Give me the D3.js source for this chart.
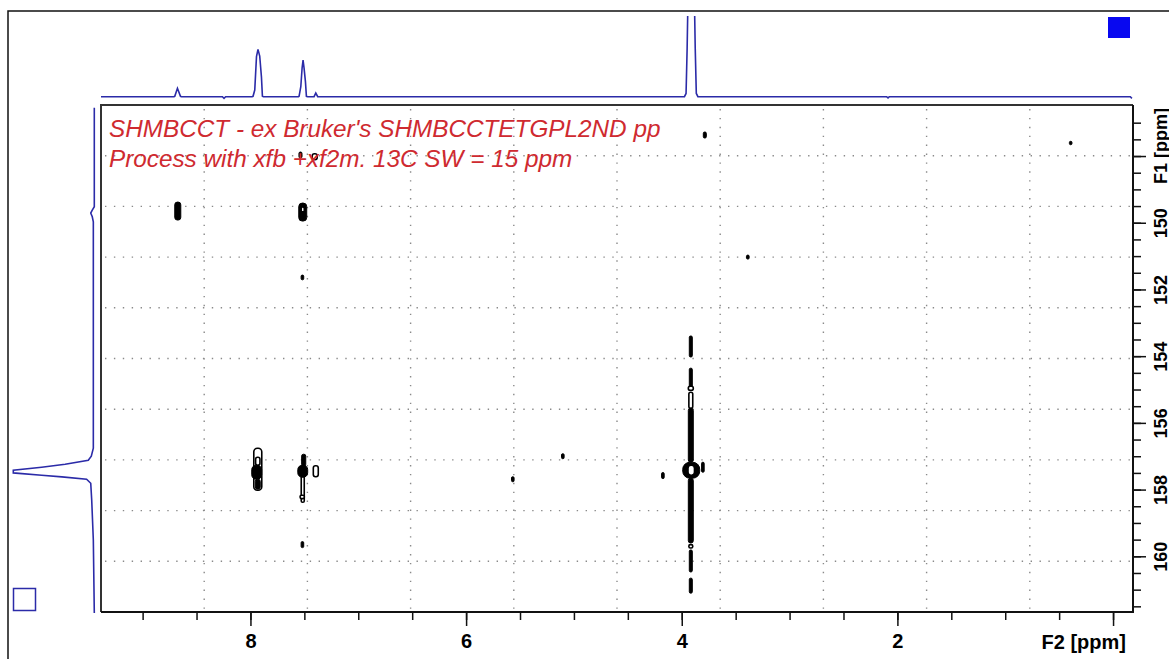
<!DOCTYPE html>
<html>
<head>
<meta charset="utf-8">
<script src="https://cdn.jsdelivr.net/npm/d3@7"></script>
<style>
    body { margin: 0; background: #fff; }
    svg { display: block; }
    text { font-family: "Liberation Sans", Arial, sans-serif; }
</style>
</head>
<body>
<script>
/* global d3 */

var width = 1169;
var height = 659;

// axis labels
var f2Major = [8, 6, 4, 2, 0];
var f1Major = [148, 150, 152, 154, 156, 158, 160];
var f2Title = "F2 [ppm]";
var f1Title = "F1 [ppm]";
var titleLines = ["SHMBCCT - ex Bruker's SHMBCCTETGPL2ND pp",
    "Process with xfb +xf2m. 13C SW = 15 ppm"];

// 1D projection on top: [F2 ppm, intensity]
var topProj = [
    [9.386, 0], [8.71, 0], [8.702, 0.5], [8.677, 10.4], [8.649, 0.5], [8.64, 0],
    [8.26, 0], [8.245, -2], [8.23, 0],
    [7.985, 0], [7.976, 0.5], [7.960, 8.3], [7.944, 49.6], [7.930, 58.7], [7.914, 50.4],
    [7.898, 24.4], [7.889, 0.5], [7.88, 0],
    [7.555, 0], [7.549, 0.5], [7.533, 12.4], [7.521, 35.6], [7.512, 45.5], [7.503, 35.6],
    [7.490, 18.6], [7.481, 0.5], [7.47, 0],
    [7.41, 0], [7.394, 4.5], [7.376, 0],
    [3.975, 0], [3.96, 4], [3.95, 60], [3.945, 100], [3.94, 130],
    [3.885, 130], [3.88, 100], [3.875, 60], [3.865, 4], [3.85, 0],
    [2.10, 0], [2.087, -1.5], [2.075, 0],
    [-0.16, 0], [-0.175, -2]
];

// 1D projection on the left: [F1 ppm, intensity]
var leftProj = [
    [146.55, 0], [149.52, 0], [149.62, 2.5], [149.71, 4.4], [149.82, 2.5], [149.97, 1.2],
    [155.62, 1.2], [156.76, 1.2], [157.0, 3.7], [157.12, 7.4], [157.24, 36], [157.33, 65],
    [157.42, 100], [157.50, 100], [157.57, 65], [157.62, 40], [157.69, 9.5], [157.81, 4.4],
    [158.31, 3.2], [159.51, 1.2], [161.70, 0]
];

// contours: [F2 ppm, F1 ppm, half width F2, half width F1, level (1 = solid, 0 = open)]
var contours = [
    [7.536, 147.97, 0.014, 0.09, 1],
    [7.404, 148.02, 0.023, 0.09, 0],
    [3.786, 147.37, 0.014, 0.09, 1],
    [0.393, 147.61, 0.012, 0.05, 1],
    [8.674, 149.65, 0.028, 0.27, 1],
    [7.515, 149.68, 0.037, 0.27, 1],
    [7.515, 149.60, 0.014, 0.07, 0],
    [3.387, 151.03, 0.012, 0.06, 1],
    [7.518, 151.64, 0.012, 0.07, 1],
    [7.932, 157.39, 0.037, 0.63, 0],
    [7.932, 157.15, 0.020, 0.12, 0],
    [7.942, 157.48, 0.046, 0.21, 1],
    [7.932, 157.84, 0.023, 0.15, 1],
    [7.515, 157.99, 0.014, 0.39, 0],
    [7.520, 158.22, 0.020, 0.05, 0],
    [7.506, 157.12, 0.019, 0.18, 1],
    [7.515, 157.45, 0.046, 0.18, 1],
    [7.394, 157.45, 0.023, 0.165, 0],
    [7.518, 159.65, 0.012, 0.09, 1],
    [5.567, 157.69, 0.012, 0.075, 1],
    [5.103, 157.00, 0.012, 0.075, 1],
    [4.175, 157.58, 0.012, 0.09, 1],
    [3.804, 157.33, 0.012, 0.15, 1],
    [3.916, 153.71, 0.014, 0.315, 1],
    [3.916, 154.66, 0.014, 0.30, 1],
    [3.916, 154.96, 0.023, 0.06, 0],
    [3.916, 155.32, 0.018, 0.24, 0],
    [3.916, 156.37, 0.023, 0.81, 1],
    [3.916, 158.63, 0.023, 0.97, 1],
    [3.916, 159.70, 0.018, 0.05, 0],
    [3.916, 160.14, 0.014, 0.33, 1],
    [3.916, 160.88, 0.014, 0.225, 1],
    [3.912, 157.42, 0.079, 0.24, 1],
    [3.912, 157.42, 0.030, 0.15, 0]
];

var plot = {left: 101, top: 105, right: 1133, bottom: 612};
var blue = "#2b2ba8";

var svg = d3.select("body")
        .append("svg")
        .attr("width", width)
        .attr("height", height);

var x = d3.scaleLinear().domain([9.386, -0.185]).range([plot.left, plot.right]);
var y = d3.scaleLinear().domain([146.47, 161.67]).range([plot.top, plot.bottom]);
var topY = d3.scaleLinear().domain([0, 100]).range([96.7, 16]);
var leftX = d3.scaleLinear().domain([0, 100]).range([94.3, 13.3]);

// outer frame (runs off the picture to the right and bottom)
svg.append("path")
        .attr("d", "M8," + (height + 5) + "V11H" + (width + 5))
        .attr("fill", "none")
        .attr("stroke", "#111")
        .attr("stroke-width", 1.5);

// grid, 10 x 10 divisions
var gx = d3.scaleLinear().domain([0, 10]).range([plot.left, plot.right]);
var gy = d3.scaleLinear().domain([0, 10]).range([plot.top, plot.bottom]);
var grid = svg.append("g")
        .attr("stroke", "#8a8a8a")
        .attr("stroke-width", 1.4)
        .attr("stroke-dasharray", "1.4 7.5");
grid.selectAll(".gv").data(d3.range(1, 10)).enter().append("line")
        .attr("x1", function (d) { return gx(d); })
        .attr("x2", function (d) { return gx(d); })
        .attr("y1", plot.top + 4)
        .attr("y2", plot.bottom);
grid.selectAll(".gh").data(d3.range(1, 10)).enter().append("line")
        .attr("y1", function (d) { return gy(d); })
        .attr("y2", function (d) { return gy(d); })
        .attr("x1", plot.left + 4)
        .attr("x2", plot.right);

// contours
var cont = svg.append("g");
cont.selectAll("rect").data(contours).enter().append("rect")
        .attr("x", function (d) { return x(d[0] + d[2]); })
        .attr("y", function (d) { return y(d[1] - d[3]); })
        .attr("width", function (d) { return x(d[0] - d[2]) - x(d[0] + d[2]); })
        .attr("height", function (d) { return y(d[1] + d[3]) - y(d[1] - d[3]); })
        .attr("rx", function (d) {
            var w = x(d[0] - d[2]) - x(d[0] + d[2]), h = y(d[1] + d[3]) - y(d[1] - d[3]);
            return Math.min(w, h) * 0.45;
        })
        .attr("fill", function (d) { return d[4] ? "#000" : "#fff"; })
        .attr("stroke", "#000")
        .attr("stroke-width", function (d) { return d[4] ? 1 : 1.6; });

// plot frame, left and top edges
svg.append("path")
        .attr("d", "M" + plot.left + "," + plot.bottom + "V" + plot.top + "H" + plot.right)
        .attr("fill", "none")
        .attr("stroke", "#333")
        .attr("stroke-width", 2);

// title text
svg.append("g").selectAll("text").data(titleLines).enter().append("text")
        .attr("x", 109)
        .attr("y", function (d, i) { return 137 + i * 30; })
        .attr("fill", "#cf2a30")
        .attr("font-style", "italic")
        .attr("font-size", "24.3px")
        .text(function (d) { return d; });

// bottom axis
var xMinor = d3.axisBottom(x).tickValues(d3.range(0, 9.01, 0.5)).tickSize(8).tickFormat("");
var xMajor = d3.axisBottom(x).tickValues(f2Major).tickSize(14).tickPadding(8)
        .tickFormat(function (d) { return d === 0 ? "" : d; });
svg.append("g").attr("transform", "translate(0," + plot.bottom + ")").call(xMinor);
var xa = svg.append("g").attr("transform", "translate(0," + plot.bottom + ")").call(xMajor);
svg.selectAll(".domain").remove();
xa.selectAll("text")
        .attr("font-size", "20px")
        .attr("font-weight", "bold")
        .attr("font-family", "'Liberation Sans', Arial, sans-serif")
        .attr("fill", "#000");

// right axis
var yMinor = d3.axisRight(y).tickValues(d3.range(147, 161.6, 0.5)).tickSize(8).tickFormat("");
var yMajor = d3.axisRight(y).tickValues(f1Major).tickSize(13)
        .tickFormat(function (d) { return d === 148 ? "" : d; });
svg.append("g").attr("transform", "translate(" + plot.right + ",0)").call(yMinor);
var ya = svg.append("g").attr("transform", "translate(" + plot.right + ",0)").call(yMajor);
svg.selectAll(".domain").remove();
ya.selectAll("text")
        .attr("x", null)
        .attr("dy", null)
        .attr("text-anchor", "middle")
        .attr("transform", "translate(33.5,0) rotate(-90)")
        .attr("font-size", "18px")
        .attr("font-weight", "bold")
        .attr("font-family", "'Liberation Sans', Arial, sans-serif")
        .attr("fill", "#000");
svg.selectAll(".tick line").attr("stroke", "#111").attr("stroke-width", 1.5);

// axis lines
svg.append("path")
        .attr("d", "M" + plot.left + "," + plot.bottom + "H" + plot.right + "V" + plot.top)
        .attr("fill", "none")
        .attr("stroke", "#111")
        .attr("stroke-width", 2);

// axis titles
svg.append("text")
        .attr("x", 1126)
        .attr("y", 649)
        .attr("text-anchor", "end")
        .attr("font-size", "20px")
        .attr("font-weight", "bold")
        .text(f2Title);
svg.append("text")
        .attr("transform", "translate(1166.5,108) rotate(-90)")
        .attr("text-anchor", "end")
        .attr("font-size", "18px")
        .attr("font-weight", "bold")
        .text(f1Title);

// projections
svg.append("clipPath").attr("id", "topclip")
        .append("rect")
        .attr("x", 0).attr("y", 16).attr("width", width).attr("height", 90);
svg.append("path")
        .datum(topProj)
        .attr("clip-path", "url(#topclip)")
        .attr("fill", "none")
        .attr("stroke", blue)
        .attr("stroke-width", 1.6)
        .attr("d", d3.line()
                .x(function (d) { return x(d[0]); })
                .y(function (d) { return topY(d[1]); }));
svg.append("path")
        .datum(leftProj)
        .attr("fill", "none")
        .attr("stroke", blue)
        .attr("stroke-width", 1.6)
        .attr("d", d3.line()
                .x(function (d) { return leftX(d[1]); })
                .y(function (d) { return y(d[0]); }));

// corner squares
svg.append("rect")
        .attr("x", 1108).attr("y", 17).attr("width", 22).attr("height", 21)
        .attr("fill", "#0808f0");
svg.append("rect")
        .attr("x", 13.5).attr("y", 588.5).attr("width", 22).attr("height", 22)
        .attr("fill", "none")
        .attr("stroke", blue)
        .attr("stroke-width", 1.5);
</script>
</body>
</html>
